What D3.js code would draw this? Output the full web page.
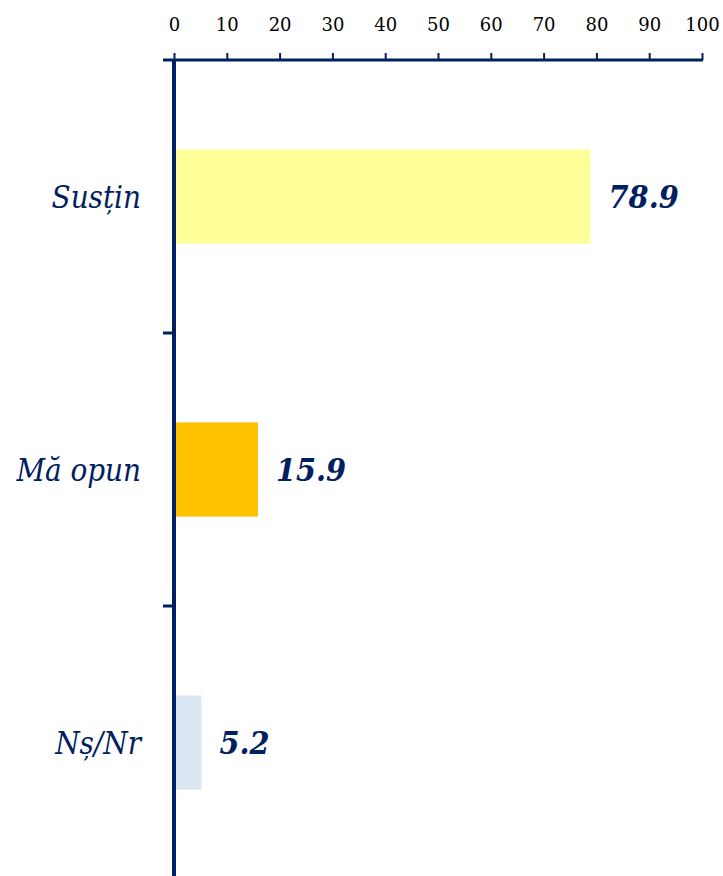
<!DOCTYPE html>
<html>
<head>
<meta charset="utf-8">
<script src="https://cdn.jsdelivr.net/npm/d3@7"></script>
<style>
  html, body { margin: 0; padding: 0; background: #fff; }
  svg { display: block; }
</style>
</head>
<body>
<script>
// Survey answers and their shares (%)
const categories = ["Susțin", "Mă opun", "Nș/Nr"];
const values = [78.9, 15.9, 5.2];
const barColors = ["#FFFF99", "#FFC000", "#DCE6F2"];
const tickValues = [0, 10, 20, 30, 40, 50, 60, 70, 80, 90, 100];

const W = 723, H = 876;
const navy = "#002060";
const serif = "'DejaVu Serif', 'Liberation Serif', serif";
const serifNarrow = "'DejaVu Serif Condensed', 'Liberation Serif', serif";

const svg = d3.select("body").append("svg")
  .attr("width", W).attr("height", H);

const x = d3.scaleLinear().domain([0, 100]).range([174, 702]);
const y = d3.scaleBand().domain(categories).range([60, 879]).padding(0);
const barFrac = 0.345;

// Bars
svg.selectAll("rect.bar").data(categories).join("rect")
  .attr("class", "bar")
  .attr("x", x(0))
  .attr("y", d => y(d) + y.bandwidth() * (1 - barFrac) / 2)
  .attr("width", (d, i) => x(values[i]) - x(0))
  .attr("height", y.bandwidth() * barFrac)
  .attr("fill", (d, i) => barColors[i]);

// Top value axis
const xAxis = d3.axisTop(x).tickValues(tickValues).tickSize(7).tickPadding(22);
const gx = svg.append("g").attr("transform", "translate(0,60)").call(xAxis);
gx.attr("font-size", null).attr("font-family", null);
gx.select(".domain").remove();
gx.selectAll(".tick line").attr("stroke", navy).attr("stroke-width", 2);
gx.selectAll(".tick text")
  .attr("fill", "#000")
  .attr("dy", 0)
  .attr("font-family", serif)
  .attr("font-size", 18);
svg.append("line")
  .attr("x1", x(0) - 11).attr("x2", x(100) + 1)
  .attr("y1", 60).attr("y2", 60)
  .attr("stroke", navy).attr("stroke-width", 3);

// Category axis: vertical line with ticks between bands
svg.append("line")
  .attr("x1", x(0)).attr("x2", x(0))
  .attr("y1", 60).attr("y2", H)
  .attr("stroke", navy).attr("stroke-width", 4);
svg.selectAll("line.sep").data(categories.slice(1)).join("line")
  .attr("class", "sep")
  .attr("x1", x(0) - 11).attr("x2", x(0))
  .attr("y1", d => y(d)).attr("y2", d => y(d))
  .attr("stroke", navy).attr("stroke-width", 3);

// Category labels
svg.selectAll("text.cat").data(categories).join("text")
  .attr("class", "cat")
  .attr("x", 141)
  .attr("y", d => y(d) + y.bandwidth() / 2)
  .attr("dy", "0.36em")
  .attr("text-anchor", "end")
  .attr("fill", navy)
  .attr("font-family", serifNarrow)
  .attr("font-style", "italic")
  .attr("font-size", 31)
  .text(d => d);

// Value labels
svg.selectAll("text.val").data(categories).join("text")
  .attr("class", "val")
  .attr("x", (d, i) => x(values[i]) + 18)
  .attr("y", d => y(d) + y.bandwidth() / 2)
  .attr("dy", "0.37em")
  .attr("fill", navy)
  .attr("font-family", serifNarrow)
  .attr("font-style", "italic")
  .attr("font-weight", "bold")
  .attr("font-size", 32)
  .text((d, i) => values[i].toFixed(1));
</script>
</body>
</html>
